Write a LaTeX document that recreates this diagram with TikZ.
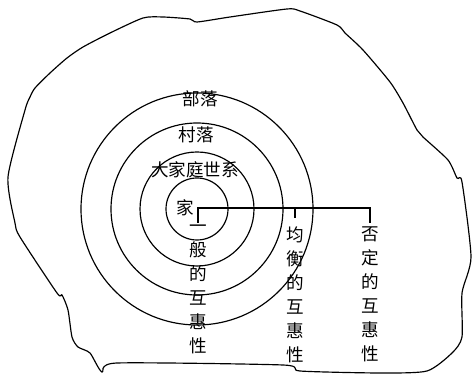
\documentclass[tikz,border=0pt]{standalone}
\usepackage{fontspec}
\newfontfamily\cjk{Noto Sans CJK SC}
\begin{document}
\begin{tikzpicture}[x=0.03cm,y=-0.03cm,line width=1pt,
  lab/.style={font=\cjk\fontsize{15pt}{20.5pt}\selectfont,inner sep=1pt},
  vlab/.style={lab,align=center}]
\useasboundingbox (0,0) rectangle (472,374);
% outer boundary
\draw plot[smooth cycle,tension=.4] coordinates {(197,22) (230,17) (287,9) (300,11) (337,25) (345,33) (363,50) (390,82) (403,103) (417,130) (423,137) (448,160) (457,178) (462,182) (471,257) (462,293) (462,337) (452,353) (427,371) (380,373) (300,371) (283,365) (117,363) (102,372) (90,353) (78,347) (72,337) (68,310) (62,295) (57,293) (20,237) (15,223) (8,177) (25,110) (30,97) (35,88) (50,73) (67,58) (83,47) (110,33) (143,18) (163,17) (190,19)};
% rings
\coordinate (c) at (197,209);
\draw (c) circle [radius=31];
\draw (c) circle [radius=57];
\draw (c) circle [radius=86];
\draw (c) circle [radius=116];
\node[lab] (tribe) at (200,99) {部落};
\node[lab] (village) at (196,135) {村落};
\node[lab] (lineage) at (195,170) {大家庭世系};
\node[lab] (home) at (185,208) {家};
% reciprocity
\node[vlab] (gen) at (198,289) {一\\般\\的\\互\\惠\\性};
\node[vlab] (bal) at (295,295) {均\\衡\\的\\互\\惠\\性};
\node[vlab] (neg) at (370,294) {否\\定\\的\\互\\惠\\性};
\coordinate (bus) at (198,208);
\coordinate (genend) at (198,223);
\coordinate (balend) at (295,218);
\coordinate (negend) at (370,223);
\draw (genend) -- (genend |- bus) -- (negend |- bus) -- (negend);
\draw (balend |- bus) -- (balend);
\end{tikzpicture}
\end{document}
